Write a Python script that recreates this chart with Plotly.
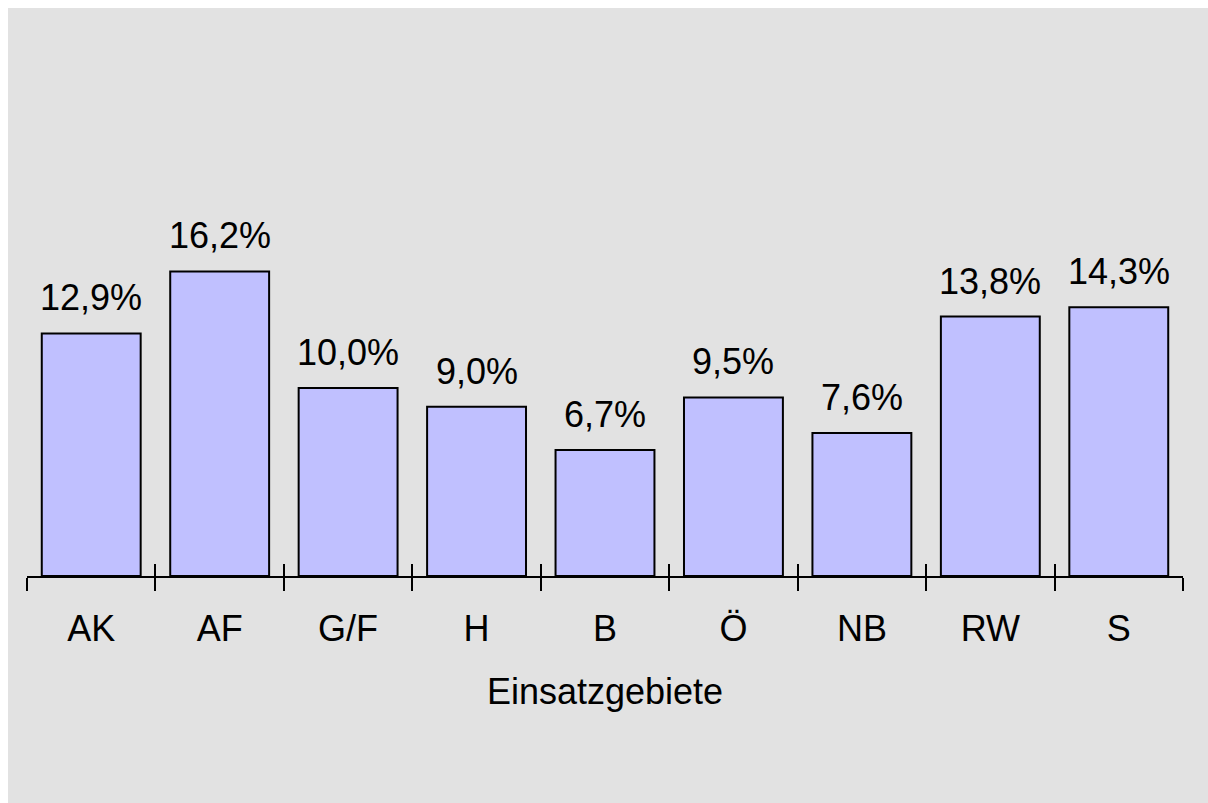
import plotly.graph_objects as go

# Einsatzgebiete, Anteile in Prozent
categories = ["AK", "AF", "G/F", "H", "B", "Ö", "NB", "RW", "S"]
shares = [12.9, 16.2, 10.0, 9.0, 6.7, 9.5, 7.6, 13.8, 14.3]
x_title = "Einsatzgebiete"

FONT = "Liberation Sans, Arial, Helvetica, sans-serif"
BG = "#e2e2e2"

W, H = 1208, 803
ML, MR, MT, MB = 27, 25, 12, 227
n = len(categories)
boundaries = [i - 0.5 for i in range(n + 1)]

bars = go.Bar(
    x=categories,
    y=shares,
    marker=dict(color="#c0c0ff", line=dict(color="black", width=2)),
    hoverinfo="skip",
)

# empty trace so the helper axis (upper half of the ticks) gets drawn
helper = go.Scatter(x=[], y=[], xaxis="x2", yaxis="y", showlegend=False,
                    hoverinfo="skip")

fig = go.Figure(data=[bars, helper])

# value labels above the bars, German decimal comma
for cat, val in zip(categories, shares):
    fig.add_annotation(
        x=cat, y=val, xref="x", yref="y",
        text=f"{val:.1f}".replace(".", ",") + "%",
        showarrow=False, yanchor="bottom", yshift=13,
        font=dict(size=36, color="black", family=FONT),
    )

# grey panel with a thin white border on the top and left side
pw, ph = W - ML - MR, H - MT - MB
fig.add_shape(
    type="rect", xref="paper", yref="paper", layer="below",
    x0=(8 - ML) / pw, x1=(W + 10 - ML) / pw,
    y0=-(H + 10 - MT - ph) / ph, y1=1 + (MT - 8) / ph,
    fillcolor=BG, line=dict(width=0),
)

fig.update_layout(
    width=W,
    height=H,
    margin=dict(l=ML, r=MR, t=MT, b=MB),
    paper_bgcolor="white",
    plot_bgcolor=BG,
    bargap=0.23,
    showlegend=False,
    font=dict(family=FONT, size=36, color="black"),
    xaxis=dict(
        type="category",
        range=[-0.5, n - 0.5],
        tickson="boundaries",
        ticks="outside",
        ticklen=13,
        tickwidth=2,
        tickcolor="black",
        showline=True,
        linewidth=2,
        linecolor="black",
        showgrid=False,
        zeroline=False,
        tickfont=dict(size=36),
        ticklabelstandoff=20,
        title=dict(text=x_title, font=dict(size=36), standoff=31),
    ),
    xaxis2=dict(
        overlaying="x",
        anchor="y",
        side="bottom",
        type="linear",
        range=[-0.5, n - 0.5],
        tickvals=boundaries,
        ticks="inside",
        ticklen=12,
        tickwidth=2,
        tickcolor="black",
        showticklabels=False,
        showline=False,
        showgrid=False,
        zeroline=False,
    ),
    yaxis=dict(range=[0, 30], visible=False),
)

fig.write_html(
    "out.html",
    config={"displayModeBar": False},
    post_script="document.body.style.margin='0';"
                "document.documentElement.style.overflow='hidden';",
)
